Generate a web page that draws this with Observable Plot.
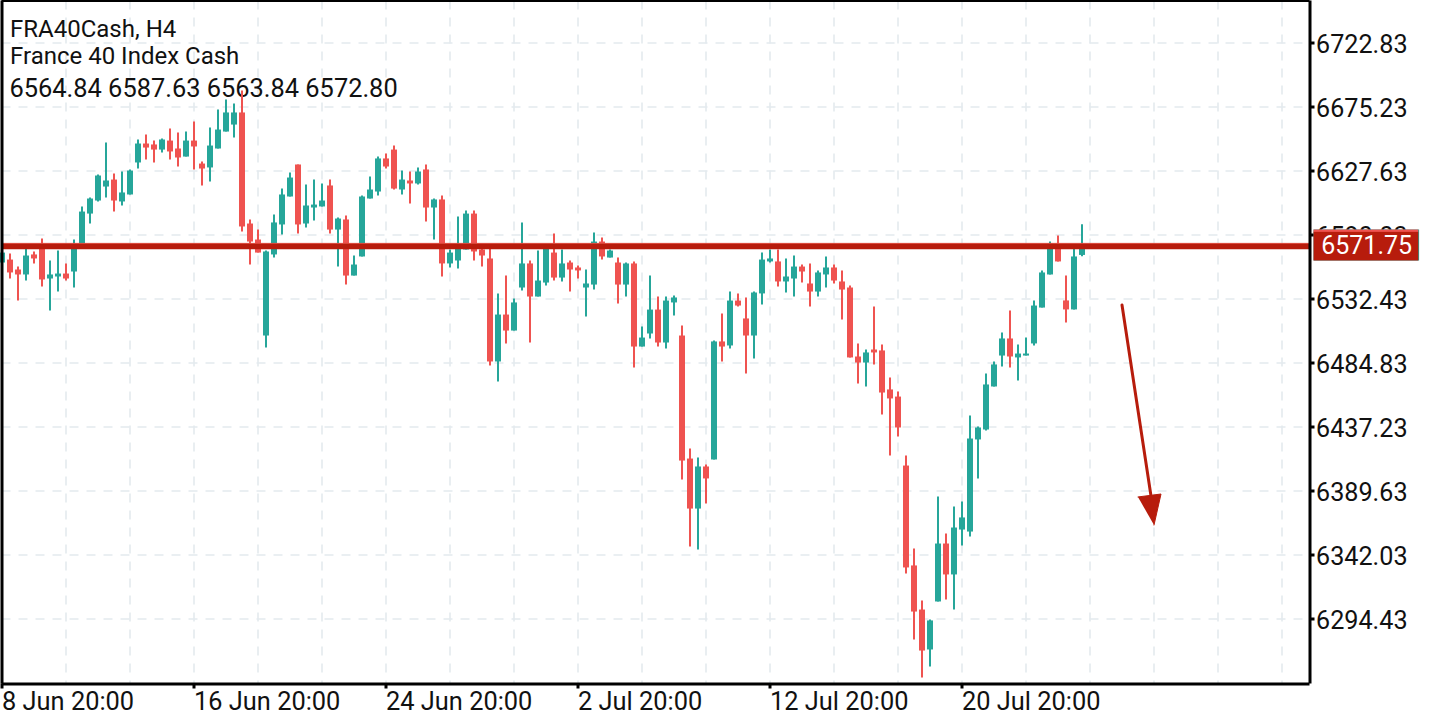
<!DOCTYPE html>
<html>
<head>
<meta charset="utf-8">
<script src="https://cdn.jsdelivr.net/npm/d3@7"></script>
<script src="https://cdn.jsdelivr.net/npm/@observablehq/plot@0.6"></script>
<style>
html,body{margin:0;padding:0;background:#fff;}
svg{display:block;}
</style>
</head>
<body>
<div id="chart"></div>
<script>
const directions = "GRRGRRGGRG GGGGRGGGRR GRRGRRGGGG RRRGGGGRGG GRGRGGGGRR GRGRGRGGGR RRGRGGRGGR GRRGGRGRGR GGRGGRRGRG RGRRGGGRGG RRGGRRRRGR RRRRRRGGRG GGGGGGRGGG GGRRGG".replace(/ /g,"");
const highs = [
6571.0,6565.9,6556.2,6572.6,6567.4,6577.1,6560.7,6568.1,6558.5,6576.3,
6600.9,6607.5,6624.7,6648.5,6625.4,6626.9,6628.4,6650.7,6654.4,6649.9,
6651.4,6658.9,6655.9,6656.6,6664.1,6634.3,6659.6,6673.0,6680.4,6677.5,
6687.1,6591.2,6583.7,6568.1,6594.9,6614.2,6626.1,6632.1,6617.2,6620.9,
6618.0,6620.9,6592.7,6594.2,6564.4,6609.0,6623.2,6638.0,6640.3,6646.2,
6627.6,6626.9,6629.9,6632.1,6606.8,6609.0,6568.9,6593.4,6597.9,6597.9,
6570.4,6570.4,6536.1,6549.5,6532.4,6589.0,6560.7,6568.1,6570.4,6580.8,
6568.9,6560.7,6557.0,6554.0,6581.5,6577.8,6568.9,6562.9,6559.2,6559.9,
6511.6,6549.5,6533.9,6533.9,6534.7,6512.4,6420.9,6414.2,6409.0,6501.2,
6521.3,6537.6,6536.2,6533.2,6537.6,6566.6,6568.9,6568.9,6562.2,6564.4,
6557.7,6558.5,6553.3,6563.7,6557.7,6553.3,6542.1,6499.0,6494.5,6526.5,
6498.2,6473.7,6463.3,6415.7,6346.5,6307.8,6293.7,6385.2,6357.7,6377.7,
6381.5,6445.4,6437.2,6476.7,6485.6,6507.2,6523.5,6498.2,6503.4,6531.0,
6553.3,6574.8,6579.3,6549.5,6572.6,6587.63];
const lows = [
6559.2,6547.3,6530.9,6545.8,6558.5,6541.4,6523.5,6537.6,6545.8,6540.6,
6571.8,6588.2,6604.6,6607.5,6597.1,6601.6,6609.8,6629.1,6635.8,6633.6,
6641.0,6635.8,6630.6,6638.0,6628.4,6616.5,6619.4,6644.0,6656.6,6652.2,
6582.3,6557.7,6566.6,6496.0,6562.9,6580.0,6608.3,6580.8,6585.2,6590.4,
6600.9,6580.8,6556.2,6542.8,6549.5,6563.7,6606.8,6609.0,6629.1,6613.5,
6609.8,6603.1,6617.2,6589.7,6576.3,6548.8,6555.5,6554.7,6568.9,6560.7,
6556.2,6482.6,6470.7,6499.0,6508.6,6538.4,6499.7,6533.9,6542.1,6545.8,
6545.1,6537.6,6547.3,6519.0,6539.1,6561.4,6562.9,6528.7,6533.9,6481.1,
6496.7,6502.7,6496.7,6495.2,6519.8,6397.8,6348.0,6345.8,6380.0,6412.7,
6485.6,6495.2,6526.5,6476.7,6487.8,6528.0,6559.2,6541.4,6536.9,6533.9,
6544.3,6526.5,6533.9,6540.6,6543.6,6516.8,6488.6,6469.2,6467.0,6483.3,
6446.2,6415.7,6429.8,6327.9,6278.8,6250.6,6258.7,6307.1,6308.6,6301.1,
6348.7,6355.4,6398.6,6434.3,6467.0,6481.9,6481.1,6471.5,6490.0,6497.5,
6525.7,6550.3,6560.0,6514.6,6524.3,6563.84];
const bodyTops = [
6566.6,6561.4,6554.0,6564.4,6565.2,6572.6,6550.3,6551.0,6551.0,6569.6,
6597.1,6606.8,6623.9,6620.2,6620.9,6611.3,6627.6,6647.7,6647.7,6647.0,
6650.7,6649.9,6644.0,6649.9,6649.9,6632.8,6646.2,6658.1,6670.8,6670.8,
6670.8,6588.2,6576.3,6567.4,6589.0,6609.8,6622.4,6632.1,6601.6,6602.3,
6605.3,6616.5,6591.9,6591.2,6557.7,6608.3,6613.5,6636.6,6636.6,6643.2,
6620.9,6620.2,6626.9,6628.4,6606.1,6606.1,6566.6,6572.6,6595.6,6595.6,
6568.9,6562.2,6520.5,6520.5,6529.5,6558.5,6558.5,6545.8,6569.6,6566.6,
6558.5,6559.2,6555.5,6543.6,6574.8,6574.8,6568.1,6559.2,6558.5,6558.5,
6503.4,6524.2,6524.2,6530.9,6533.2,6504.9,6413.4,6407.5,6407.5,6500.5,
6500.5,6530.9,6530.9,6517.6,6536.9,6561.4,6562.2,6560.0,6548.8,6556.2,
6556.2,6543.6,6551.8,6555.5,6555.5,6545.1,6540.6,6489.3,6492.3,6494.5,
6493.8,6464.8,6459.5,6408.2,6333.9,6301.1,6293.0,6350.2,6350.2,6362.1,
6369.6,6428.3,6436.5,6468.5,6483.4,6502.7,6502.7,6491.5,6491.5,6527.2,
6551.8,6573.3,6572.6,6531.0,6563.7,6572.80];
const bodyBottoms = [
6559.2,6551.8,6550.3,6550.3,6562.2,6546.6,6547.3,6548.8,6547.3,6552.5,
6571.8,6595.6,6605.3,6615.7,6605.3,6604.6,6609.8,6633.6,6644.7,6643.2,
6643.2,6641.8,6637.3,6638.0,6645.5,6629.1,6629.9,6644.0,6656.6,6661.8,
6586.0,6574.8,6566.6,6504.9,6565.2,6587.5,6608.3,6587.5,6588.2,6600.1,
6600.9,6583.7,6583.7,6549.5,6549.5,6563.7,6606.8,6612.0,6630.6,6614.2,
6613.5,6618.0,6618.0,6600.1,6600.1,6558.5,6558.5,6560.7,6568.9,6567.4,
6564.4,6485.6,6485.6,6508.6,6508.6,6540.6,6533.9,6533.9,6544.3,6548.0,
6548.0,6554.0,6553.3,6540.6,6542.8,6563.7,6562.9,6542.8,6542.8,6496.7,
6496.7,6506.4,6499.7,6499.7,6529.5,6411.9,6376.2,6376.2,6398.6,6412.7,
6496.7,6497.5,6527.2,6504.9,6504.9,6536.2,6560.0,6545.1,6545.1,6547.3,
6552.5,6537.6,6537.6,6550.3,6545.8,6539.1,6488.6,6484.8,6484.8,6492.3,
6462.5,6458.1,6436.5,6332.4,6299.6,6270.6,6271.4,6307.1,6327.2,6327.2,
6360.6,6359.1,6427.6,6435.0,6467.0,6490.0,6489.3,6488.6,6490.0,6499.0,
6525.7,6550.3,6560.0,6524.3,6524.3,6564.84];

const priceTicks = [6722.83,6675.23,6627.63,6580.03,6532.43,6484.83,6437.23,6389.63,6342.03,6294.43];
const timeTickIndex = [0,24,48,72,96,120];
const timeTickLabels = ["8 Jun 20:00","16 Jun 20:00","24 Jun 20:00","2 Jul 20:00","12 Jul 20:00","20 Jul 20:00"];
const gridIndex = [8,16,24,32,40,48,56,64,72,80,88,96,104,112,120,128,136,144,152,160];
const levelPrice = 6571.75;
const lastPrice = 6572.80;
const headerLines = ["FRA40Cash, H4","France 40 Index Cash","6564.84 6587.63 6563.84 6572.80"];
const arrowShaftIndex = [140,143.65];
const arrowShaftPrice = [6528.0,6385.0];
const arrowHeadIndex = [142,144.875,144];
const arrowHeadPrice = [6385.2,6387.4,6364.3];
const xDomain = [0,163.5];
const yDomain = [6246.09,6754.07];

const GREEN = "#26a69a", RED = "#ef5350", LEVEL = "#b71c0c", GRID = "#e4eaee", FONT = "Roboto, sans-serif";

const candles = highs.map((h,i)=>({
  i, high:h, low:lows[i], top:bodyTops[i], bottom:bodyBottoms[i],
  color: directions[i]==="G" ? GREEN : RED
}));
const shaft = arrowShaftIndex.map((x,k)=>({x,y:arrowShaftPrice[k]}));
const head = arrowHeadIndex.map((x,k)=>({x,y:arrowHeadPrice[k]}));
const headerOpts = {text:d=>d,frameAnchor:"top-left",textAnchor:"start",lineAnchor:"bottom",fill:"#111"};

const chart = Plot.plot({
  width:1440, height:720,
  marginLeft:1.5, marginRight:130.5, marginTop:0.5, marginBottom:36.5,
  style:{fontFamily:FONT, fontSize:"24px", color:"#131722", background:"#fff", overflow:"visible"},
  x:{domain:xDomain, axis:null},
  y:{domain:yDomain, axis:null},
  marks:[
    Plot.ruleX(gridIndex,{x:d=>d,stroke:GRID,strokeWidth:1.6,strokeDasharray:"9,8"}),
    Plot.ruleY(priceTicks,{y:d=>d,stroke:GRID,strokeWidth:1.6,strokeDasharray:"9,8"}),
    Plot.text([headerLines[0]],{...headerOpts,dx:8,dy:35.5,fontSize:24}),
    Plot.text([headerLines[1]],{...headerOpts,dx:8,dy:62.5,fontSize:24}),
    Plot.text([headerLines[2]],{...headerOpts,dx:7.5,dy:95.5,fontSize:25.4}),
    Plot.ruleX(candles,{x:"i",y1:"low",y2:"high",stroke:"color",strokeWidth:2}),
    Plot.ruleX(candles,{x:"i",y1:"bottom",y2:"top",stroke:"color",strokeWidth:6}),
    Plot.ruleY([levelPrice],{y:d=>d,x1:xDomain[0],x2:xDomain[1],stroke:LEVEL,strokeWidth:6}),
    Plot.ruleY([lastPrice+1],{y:d=>d,x1:xDomain[0],x2:xDomain[1],stroke:"#dd4a3d",strokeWidth:1}),
    Plot.line(shaft,{x:"x",y:"y",stroke:LEVEL,strokeWidth:3}),
    Plot.line(head,{x:"x",y:"y",stroke:LEVEL,strokeWidth:1,fill:LEVEL}),
    Plot.ruleX([xDomain[0],xDomain[1]],{x:d=>d,stroke:"#000",strokeWidth:3}),
    Plot.ruleY([yDomain[0]],{y:d=>d,stroke:"#000",strokeWidth:3}),
    Plot.ruleY([yDomain[1]],{y:d=>d,stroke:"#000",strokeWidth:2}),
    Plot.axisY({anchor:"right",ticks:priceTicks,tickSize:4,strokeWidth:3,stroke:"#000",text:null}),
    Plot.axisY({anchor:"right",ticks:priceTicks,tickSize:0,tickPadding:6,
      fill:"#111",label:null,tickFormat:d=>d.toFixed(2),fontSize:25.2,dy:1.5}),
    Plot.axisX({anchor:"bottom",ticks:timeTickIndex,tickSize:5,tickPadding:3,strokeWidth:3,stroke:"#000",
      fill:"#111",label:null,textAnchor:"start",fontSize:25.4,
      tickFormat:d=>timeTickLabels[timeTickIndex.indexOf(d)]}),
    Plot.rect([{a:164,b:177.2,c:6560.69,d:6583.75}],{x1:"a",x2:"b",y1:"c",y2:"d",fill:GREEN}),
    Plot.rect([{a:164,b:177.1,c:6581.5,d:6583.75}],{x1:"a",x2:"b",y1:"c",y2:"d",fill:RED}),
    Plot.rect([{a:164,b:177.1,c:6560.69,d:6582.0}],{x1:"a",x2:"b",y1:"c",y2:"d",fill:LEVEL}),
    Plot.text([levelPrice],{x:164.9,y:d=>d,text:d=>d.toFixed(2),fill:"#fff",textAnchor:"start",fontSize:25})
  ]
});
document.getElementById("chart").appendChild(chart);
</script>
</body>
</html>
